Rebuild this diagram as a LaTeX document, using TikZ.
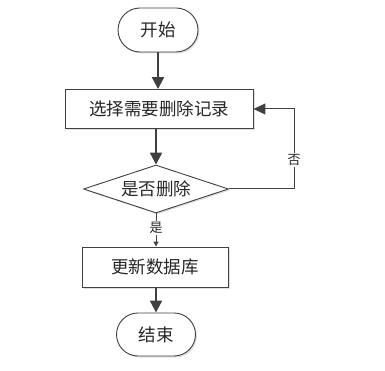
\documentclass[tikz,border=0pt]{standalone}
\usepackage{fontspec}
\setmainfont{Noto Sans CJK SC}
\usetikzlibrary{arrows.meta,shapes.geometric,shapes.misc,shadows}
\definecolor{ln}{HTML}{404040}
\begin{document}
\begin{tikzpicture}[x=1pt,y=-1pt,
  base/.style={draw=ln, line width=0.9pt, fill=white, inner sep=0pt, text=black!85,
    font=\fontsize{17.5}{20}\selectfont,
    drop shadow={shadow xshift=1.5pt, shadow yshift=-1.5pt, opacity=0.12, fill=black}},
  term/.style={base, rounded rectangle, minimum width=80pt, minimum height=44pt},
  proc/.style={base, rectangle},
  decide/.style={base, diamond, aspect=3},
  flow/.style={draw=ln, line width=2.2pt, -{Triangle[length=12pt,width=12pt]}},
  thin/.style={draw=ln, line width=1pt},
  lbl/.style={fill=white, inner sep=1pt, text=black!85, font=\fontsize{13}{15}\selectfont}
]
\useasboundingbox (0,0) rectangle (385,371);
\node[term] (start) at (158,30) {开始};
\node[proc, minimum width=188pt, minimum height=39pt] (box1) at (159,109) {选择需要删除记录};
\node[decide, minimum width=145pt, minimum height=48pt] (dec) at (156,189) {是否删除};
\node[proc, minimum width=146pt, minimum height=40pt] (box2) at (155,267) {更新数据库};
\node[term, minimum width=79pt, minimum height=43pt] (end) at (156,334.5) {结束};
\coordinate (fb) at (294,109);

\draw[flow] (start.south) -- (start.south |- box1.north);
\draw[flow] (dec.north |- box1.south) -- (dec.north);
\draw[thin, -{Triangle[length=12pt,width=11pt]}] (dec.east) -| (fb) -- (box1.east);
\node[lbl] (no) at (294,160) {否};
\draw[thin, -{Triangle[length=5pt,width=5pt]}] (dec.south) -- (dec.south |- box2.north);
\node[lbl] (yes) at (156,228) {是};
\draw[flow] (box2.south -| end.north) -- (end.north);
\end{tikzpicture}
\end{document}
